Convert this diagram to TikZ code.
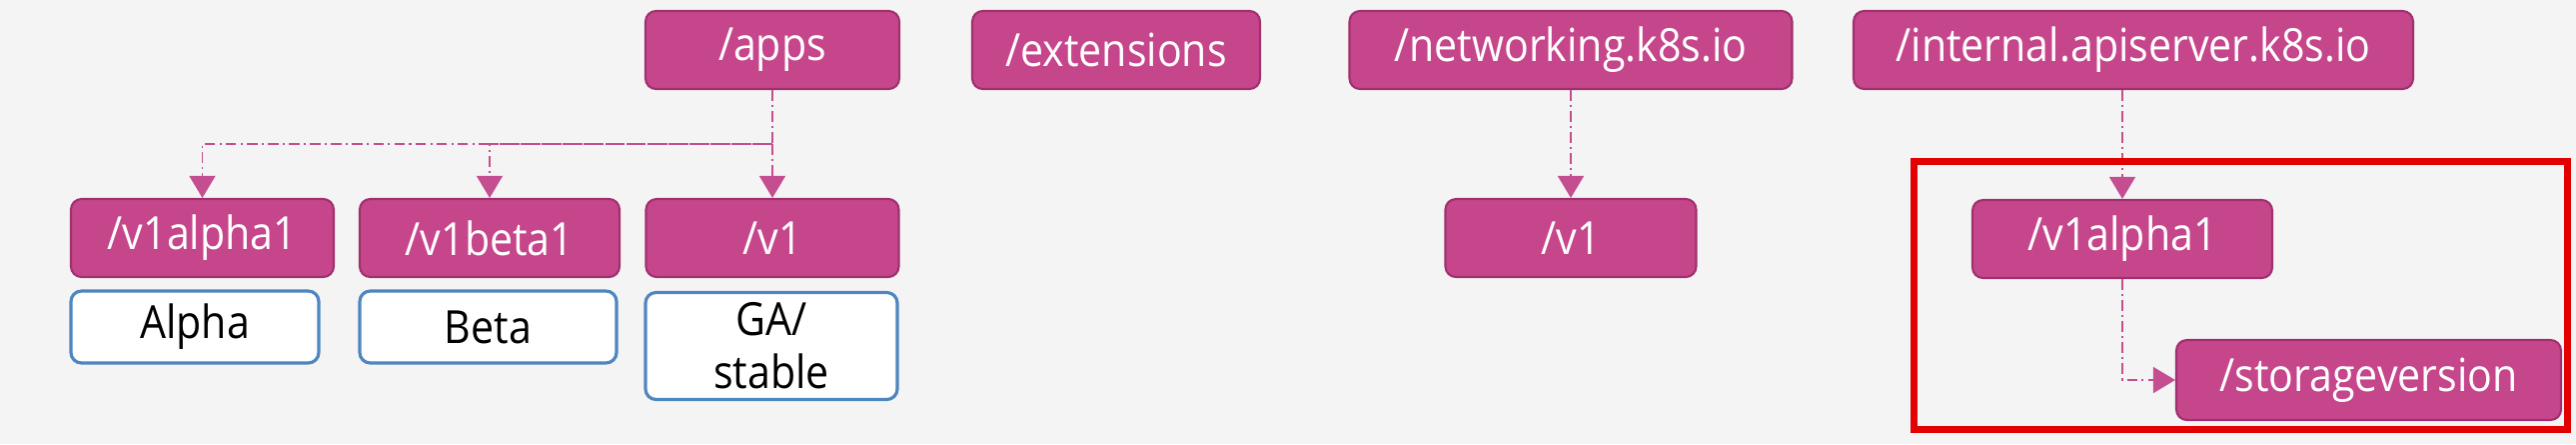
\documentclass[tikz,border=0pt]{standalone}
\usepackage{fontspec}
\setmainfont[FakeStretch=0.9]{Open Sans}
\usepackage{xcolor}
\usepackage{tikz}
\usetikzlibrary{arrows.meta, positioning, calc}
\definecolor{mybg}{RGB}{244,244,244}
\definecolor{mymagenta}{RGB}{198,70,140}
\definecolor{mymagentadark}{RGB}{160,48,110}
\definecolor{mylink}{RGB}{196,78,144}
\definecolor{myblue}{RGB}{78,134,191}
\definecolor{myred}{RGB}{226,0,0}
\tikzset{
  group/.style={rectangle, draw=mymagentadark, fill=mymagenta, text=white,
    minimum height=0.78cm, inner sep=0pt, rounded corners=3pt, line width=0.6pt},
  level/.style={rectangle, draw=myblue, fill=white, text=black, align=center,
    minimum height=0.72cm, inner sep=0pt, rounded corners=3pt, line width=0.9pt},
  link/.style={-{Triangle[length=6.3pt,width=7.4pt]}, color=mylink, line width=0.55pt,
    dash pattern=on 3pt off 1.2pt on 0.6pt off 1.2pt},
  highlight/.style={draw=myred, line width=2pt}
}
\begin{document}
\begin{tikzpicture}[every node/.style={font=\fontsize{13}{15}\selectfont}]
  % background
  \fill[mybg] (0,0) rectangle (25.78,-4.44);

  % API groups (top row)
  \node[group, minimum width=2.54cm] (apps) at (7.73,-0.50) {/apps};
  \node[group, minimum width=2.88cm] (ext) at (11.17,-0.50) {/extensions};
  \node[group, minimum width=4.43cm] (net) at (15.72,-0.50) {/networking.k8s.io};
  \node[group, minimum width=5.60cm] (internal) at (21.35,-0.50) {/internal.apiserver.k8s.io};

  % versions of /apps
  \node[group, minimum width=2.63cm] (appsalpha) at (2.025,-2.38) {/v1alpha1};
  \node[group, minimum width=2.60cm] (appsbeta) at (4.90,-2.38) {/v1beta1};
  \node[group, minimum width=2.53cm] (appsv) at (7.73,-2.38) {/v1};

  % stability levels
  \node[level, minimum width=2.48cm] (lblalpha) at (1.95,-3.27) {Alpha};
  \node[level, minimum width=2.57cm] (lblbeta) at (4.885,-3.27) {Beta};
  \node[level, minimum width=2.52cm, minimum height=1.07cm] (lblga) at (7.72,-3.46) {GA/\\stable};

  % other versions
  \node[group, minimum width=2.51cm] (netv) at (15.72,-2.38) {/v1};
  \node[group, minimum width=3.00cm] (intalpha) at (21.24,-2.39) {/v1alpha1};
  \node[group, minimum width=3.85cm, minimum height=0.80cm] (storage) at (23.705,-3.80) {/storageversion};

  % connectors
  \coordinate (bus) at (7.73,-1.44);
  \draw[link] (apps.south) -- (bus) -| (appsalpha.north);
  \draw[link] (bus) -| (appsbeta.north);
  \draw[link] (bus) -- (appsv.north);
  \draw[link] (net.south) -- (netv.north);
  \draw[link] (intalpha |- internal.south) -- (intalpha.north);
  \draw[link] (intalpha.south) |- (storage.west);

  % highlight box
  \draw[highlight] (19.155,-1.615) rectangle (25.695,-4.295);
\end{tikzpicture}
\end{document}
